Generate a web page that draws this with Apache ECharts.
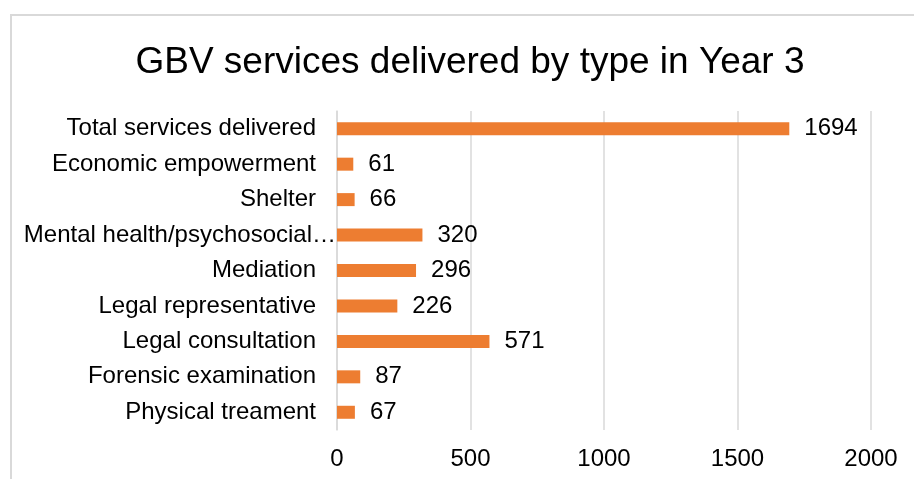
<!DOCTYPE html>
<html>
<head>
<meta charset="utf-8">
<script src="https://cdn.jsdelivr.net/npm/echarts@6/dist/echarts.min.js"></script>
<style>
  html, body { margin: 0; padding: 0; background: #fff; }
  #chart { width: 914px; height: 479px; }
</style>
</head>
<body>
<div id="chart"></div>
<script>
// Service types, listed top to bottom
const categories = [
  'Total services delivered',
  'Economic empowerment',
  'Shelter',
  'Mental health/psychosocial support',
  'Mediation',
  'Legal representative',
  'Legal consultation',
  'Forensic examination',
  'Physical treament'
];
const servicesDelivered = [1694, 61, 66, 320, 296, 226, 571, 87, 67];
const xTicks = [0, 500, 1000, 1500, 2000];

const FONT = '"Liberation Sans", Arial, sans-serif';
const chart = echarts.init(document.getElementById('chart'));

// Long names are cut with an ellipsis and allowed to run up to the axis line
const categoryData = categories.map(name => name.length > 30
  ? { value: name, textStyle: { width: 318, overflow: 'truncate', ellipsis: '…', padding: [0, -20, 0, 0] } }
  : name);

chart.setOption({
  animation: false,
  backgroundColor: '#ffffff',
  title: {
    text: 'GBV services delivered by type in Year 3',
    left: 465,
    textAlign: 'center',
    top: 39,
    textStyle: { fontFamily: FONT, fontSize: 37, fontWeight: 'normal', color: '#000000' }
  },
  graphic: [{
    type: 'rect',
    silent: true,
    shape: { x: 11, y: 15, width: 1200, height: 800 },
    style: { fill: 'none', stroke: '#d9d9d9', lineWidth: 2 }
  }],
  grid: { left: 337, right: 43, top: 111, bottom: 49, containLabel: false },
  xAxis: {
    type: 'value',
    min: xTicks[0],
    max: xTicks[xTicks.length - 1],
    interval: xTicks[1] - xTicks[0],
    axisLine: { show: false },
    axisTick: { show: false },
    splitLine: { show: true, lineStyle: { color: '#d9d9d9', width: 1.5 } },
    axisLabel: {
      fontFamily: FONT, fontSize: 24, color: '#000000', margin: 17,
      formatter: v => String(v)
    }
  },
  yAxis: {
    type: 'category',
    inverse: true,
    data: categoryData,
    axisLine: { show: true, lineStyle: { color: '#d9d9d9', width: 1.5 } },
    axisTick: { show: false },
    axisLabel: { fontFamily: FONT, fontSize: 24, color: '#000000', margin: 21 }
  },
  series: [{
    type: 'bar',
    data: servicesDelivered,
    barWidth: 13,
    itemStyle: { color: '#ED7D31' },
    label: {
      show: true,
      position: 'right',
      distance: 15,
      fontFamily: FONT,
      fontSize: 24,
      color: '#000000'
    }
  }]
});
</script>
</body>
</html>
